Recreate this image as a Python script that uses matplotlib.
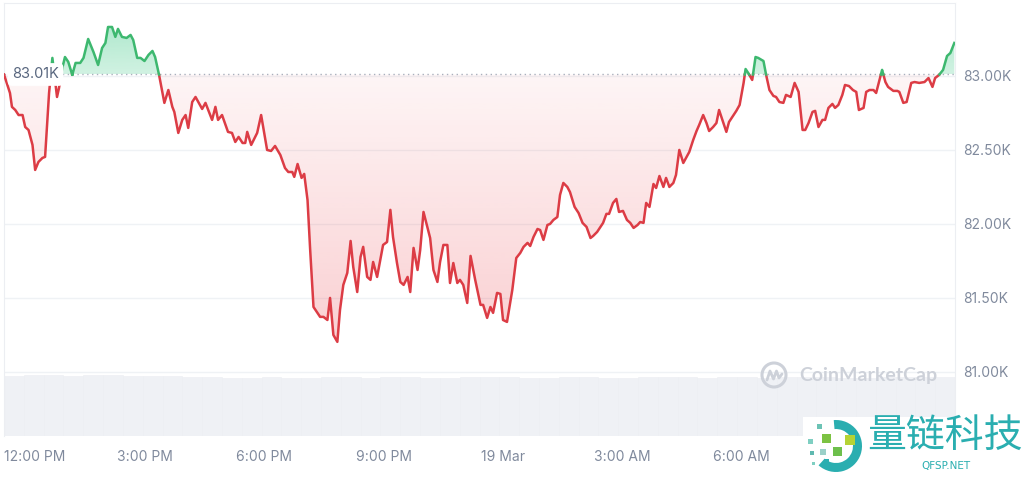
import numpy as np
import matplotlib.pyplot as plt
from matplotlib.path import Path
from matplotlib.patches import Rectangle, Circle, Wedge
from matplotlib.lines import Line2D
from matplotlib.transforms import ScaledTranslation

plt.rcParams['font.family'] = ['Inter', 'Noto Sans CJK SC', 'DejaVu Sans']

# BTC price, minutes after 12:00 PM (18 Mar), USD
minutes = [-33, -24, -21, -16, -11, -5, -1, 4, 10, 14, 19, 25, 29, 35, 40, 47, 50, 55, 59, 64,
           70, 75, 82, 87, 94, 102, 109, 115, 120, 124, 130, 135, 139, 145, 152, 158, 162, 168, 173, 179,
           185, 191, 195, 201, 209, 215, 221, 224, 230, 236, 241, 245, 251, 256, 266, 271, 281, 286, 290, 296,
           305, 311, 316, 321, 327, 331, 334, 340, 349, 355, 364, 370, 376, 384, 391, 396, 402, 405, 410, 416,
           420, 425, 429, 434, 440, 444, 449, 455, 459, 464, 470, 474, 479, 485, 490, 494, 500, 505, 509, 515,
           520, 524, 530, 539, 545, 550, 554, 560, 565, 570, 576, 580, 585, 591, 595, 600, 610, 615, 621, 625,
           630, 636, 640, 645, 651, 655, 660, 666, 671, 678, 686, 690, 696, 701, 705, 711, 716, 720, 726, 734,
           740, 746, 751, 757, 761, 766, 772, 776, 781, 787, 791, 796, 802, 806, 811, 817, 821, 828, 834, 840,
           846, 852, 856, 862, 867, 871, 876, 880, 886, 891, 895, 901, 907, 912, 917, 923, 927, 932, 936, 941,
           947, 951, 956, 962, 966, 971, 977, 981, 986, 992, 997, 1001, 1007, 1012, 1016, 1022, 1027, 1031, 1037, 1042,
           1046, 1052, 1057, 1061, 1067, 1072, 1077, 1083, 1086, 1090, 1096, 1101, 1105, 1113, 1117, 1122, 1128, 1132, 1137, 1143,
           1147, 1154, 1160, 1166, 1172, 1176, 1181, 1187, 1191, 1196, 1202, 1206, 1211, 1217, 1221, 1226, 1232, 1236, 1242, 1248,
           1253, 1257, 1264, 1268, 1273, 1279, 1283, 1292, 1297, 1301, 1309, 1315, 1318, 1324, 1329, 1336, 1341, 1348, 1356, 1362,
           1368, 1372, 1378, 1384, 1390, 1395, 1401]
prices = [83010, 82885, 82791, 82770, 82736, 82736, 82655, 82635, 82534, 82365, 82419, 82446, 82453, 82885, 83122, 82858, 82919, 83054, 83128, 83095,
          83007, 83088, 83088, 83122, 83250, 83162, 83074, 83189, 83223, 83331, 83331, 83264, 83318, 83264, 83257, 83277, 83243, 83122, 83122, 83101,
          83142, 83169, 83128, 83007, 82818, 82905, 82791, 82757, 82615, 82703, 82736, 82649, 82824, 82858, 82777, 82818, 82703, 82791, 82703, 82736,
          82622, 82615, 82554, 82588, 82547, 82547, 82622, 82534, 82615, 82736, 82500, 82493, 82527, 82466, 82378, 82351, 82351, 82318, 82405, 82311,
          82338, 82162, 81824, 81439, 81399, 81372, 81372, 81351, 81500, 81250, 81203, 81419, 81588, 81669, 81885, 81709, 81540, 81777, 81845, 81642,
          81622, 81743, 81642, 81858, 81878, 82095, 81912, 81736, 81608, 81588, 81642, 81540, 81838, 81689, 81824, 82081, 81905, 81689, 81608, 81743,
          81858, 81858, 81601, 81736, 81601, 81622, 81588, 81466, 81784, 81622, 81453, 81453, 81365, 81439, 81399, 81534, 81527, 81351, 81338, 81554,
          81770, 81804, 81845, 81872, 81851, 81912, 81966, 81959, 81892, 81993, 82000, 82027, 82047, 82196, 82277, 82250, 82216, 82115, 82074, 82007,
          81980, 81905, 81919, 81946, 81980, 82007, 82068, 82068, 82142, 82169, 82081, 82088, 82027, 82007, 81973, 81993, 82013, 82007, 82142, 82115,
          82270, 82243, 82324, 82250, 82311, 82250, 82277, 82331, 82500, 82412, 82453, 82486, 82568, 82628, 82669, 82736, 82682, 82628, 82655, 82682,
          82770, 82689, 82622, 82689, 82730, 82764, 82804, 82953, 83047, 83020, 82973, 83128, 83122, 83101, 83007, 82905, 82865, 82858, 82824, 82818,
          82872, 82858, 82953, 82892, 82635, 82635, 82682, 82757, 82764, 82655, 82703, 82703, 82784, 82811, 82784, 82804, 82872, 82939, 82932, 82905,
          82892, 82770, 82784, 82892, 82905, 82905, 82885, 83041, 82959, 82926, 82899, 82899, 82892, 82818, 82824, 82953, 82959, 82953, 82959, 82986,
          82926, 82986, 83007, 83041, 83135, 83155, 83223]
base_price = 83010

# volume, roughly half-hourly (relative units)
volume = [60, 61, 61, 60, 61, 61, 60, 60, 60, 59, 59, 58, 58, 59, 58, 58, 59, 59, 58, 59, 59, 58, 58, 59,
          59, 59, 58, 58, 59, 59, 58, 58, 59, 59, 59, 58, 59, 59, 58, 59, 59, 59, 58, 58, 59, 59, 59, 59]

tick_min = [0, 180, 360, 540, 720, 900, 1080]
tick_lbl = ['12:00 PM', '3:00 PM', '6:00 PM', '9:00 PM', '19 Mar', '3:00 AM', '6:00 AM']
y_ticks = [81000, 81500, 82000, 82500, 83000]

RED = '#dc3c45'
GREEN = '#3db86f'
LBL = '#808a9d'

t = np.array(minutes, float)
p = np.array(prices, float)

# insert base crossings so colours switch exactly on the reference line
xs, ys = [t[0]], [p[0]]
for i in range(1, len(t)):
    a, b = p[i - 1] - base_price, p[i] - base_price
    if a * b < 0:
        f = a / (a - b)
        xs.append(t[i - 1] + f * (t[i] - t[i - 1]))
        ys.append(base_price)
    xs.append(t[i])
    ys.append(p[i])
xs, ys = np.array(xs), np.array(ys)

xmin, xmax = -33, 1402
ylo, yhi = 80567, 83493

fig = plt.figure(figsize=(10.24, 4.78), dpi=100)
L, R = 4 / 1024, 955 / 1024
B = 42 / 478

ax_vol = fig.add_axes([L, B, R - L, 61 / 478])
edges = np.linspace(xmin, xmax, len(volume) + 1)
ax_vol.bar(edges[:-1], volume, width=np.diff(edges), align='edge',
           color='#eff1f5', edgecolor='#eceef2', lw=0.4)
ax_vol.set_xlim(xmin, xmax)
ax_vol.set_ylim(0, max(volume))
ax_vol.axis('off')

ax = fig.add_axes([L, B, R - L, 433 / 478])
ax.set_facecolor('none')


def grad_fill(above, rgb, lo, hi, a_lo, a_hi):
    where = ys >= base_price if above else ys <= base_price
    coll = ax.fill_between(xs, ys, base_price, where=where, interpolate=True,
                           facecolor='none', edgecolor='none')
    path = Path.make_compound_path(*coll.get_paths())
    img = np.zeros((256, 1, 4))
    img[..., :3] = rgb
    img[:, 0, 3] = np.linspace(a_lo, a_hi, 256)
    im = ax.imshow(img, extent=[xmin, xmax, lo, hi], origin='lower',
                   aspect='auto', zorder=1, interpolation='bilinear')
    im.set_clip_path(path, transform=ax.transData)


grad_fill(False, (234 / 255, 57 / 255, 67 / 255), p.min(), base_price, 0.24, 0.05)
grad_fill(True, (22 / 255, 190 / 255, 110 / 255), base_price, p.max(), 0.2, 0.34)

up = np.ma.masked_where(ys < base_price, ys)
dn = np.ma.masked_where(ys > base_price, ys)
ax.plot(xs, dn, color=RED, lw=1.8, zorder=3, solid_joinstyle='round')
ax.plot(xs, up, color=GREEN, lw=1.8, zorder=3, solid_joinstyle='round')

ax.axhline(base_price, color='#a9b0bd', lw=1, ls=(0, (1, 2.5)), zorder=2)
ax.text(0.0085, base_price, f'{base_price / 1000:.2f}K', transform=ax.get_yaxis_transform(),
        ha='left', va='center', fontsize=10.5, color='#58667e', zorder=5,
        bbox=dict(boxstyle='round,pad=0.3', fc='white', ec='none'))

ax.set_xlim(xmin, xmax)
ax.set_ylim(ylo, yhi)
ax.set_yticks(y_ticks)
ax.set_yticklabels([f'{v / 1000:.2f}K' for v in y_ticks])
ax.set_xticks(tick_min)
ax.set_xticklabels(tick_lbl)
ax.yaxis.tick_right()
ax.tick_params(axis='y', length=0, pad=6, labelsize=10, labelcolor=LBL)
ax.tick_params(axis='x', length=0, pad=10, labelsize=10, labelcolor=LBL)
ax.grid(axis='y', color='#eff2f5', lw=1)
ax.set_axisbelow(True)
for side in ['top', 'left', 'right']:
    ax.spines[side].set_color('#eceef2')
ax.spines['bottom'].set_visible(False)

lab0 = ax.get_xticklabels()[0]
lab0.set_transform(lab0.get_transform() + ScaledTranslation(0.085, 0, fig.dpi_scale_trans))

# watermarks, drawn in pixel space
ov = fig.add_axes([0, 0, 1, 1])
ov.set_xlim(0, 1024)
ov.set_ylim(478, 0)
ov.axis('off')

wm = '#cdd1d9'
ov.add_patch(Circle((774, 375), 12, fill=False, ec=wm, lw=2.2))
ov.add_line(Line2D([767, 770, 773.5, 776.5, 779, 782], [380, 371, 379, 371, 378, 374],
                   color=wm, lw=2.0, solid_joinstyle='round', solid_capstyle='round'))
ov.text(799, 376, 'CoinMarketCap', ha='left', va='center', fontsize=14,
        color=wm, family=['Lato', 'DejaVu Sans'], weight='bold')

teal = '#2aaeb0'
ov.add_patch(Rectangle((803, 417), 221, 61, fc='white', ec='none'))
ov.add_patch(Wedge((836, 446), 26, -95, 132, width=9, fc=teal, ec='none'))
for (sx, sy, s, c) in [(817, 424, 5, '#6cc3b5'), (808, 439, 5, '#7fcfc2'), (822, 434, 9, '#7cc242'),
                       (810, 451, 4, '#5fb9b0'), (820, 449, 6, '#9ad0c8'), (833, 447, 9, '#6dbf4b'),
                       (845, 435, 10, '#b5d334'), (824, 459, 5, '#2aaeb0'), (812, 462, 3, '#7fcfc2')]:
    ov.add_patch(Rectangle((sx, sy), s, s, fc=c, ec='none'))
ov.text(945, 436, '量链科技', ha='center', va='center', fontsize=28, color=teal,
        family=['Noto Sans CJK SC'])
ov.text(946, 466, 'QFSP.NET', ha='center', va='center', fontsize=7.5, color=teal,
        family=['DejaVu Sans'])

fig.savefig('out.png', dpi=100)
